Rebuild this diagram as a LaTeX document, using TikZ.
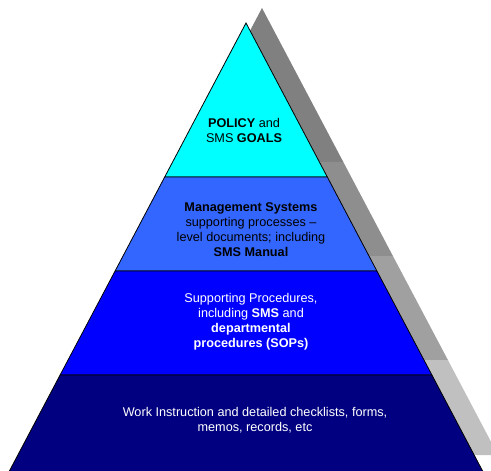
\documentclass[tikz,border=0pt]{standalone}
\usepackage{fontspec}
\setmainfont{Liberation Sans}

\tikzset{
  layertext/.style={align=center, inner sep=0.75pt, font=\fontsize{9.5}{11.25}\selectfont},
  layeredge/.style={draw=black, line width=0.6pt, line join=miter}
}

\begin{document}
\begin{tikzpicture}[x=0.75pt,y=0.75pt,yscale=-1,xscale=1]
\path[use as bounding box] (0,0) rectangle (491,470);
\clip (0,0) rectangle (491,470);

%Shape: Shadow top [id:sh1]
\fill [color={rgb, 255:red, 128; green, 128; blue, 128 }] (262,8) -- (343.3,162) -- (180.7,162) -- cycle ;
%Shape: Shadow band 2 [id:sh2]
\fill [color={rgb, 255:red, 142; green, 142; blue, 142 }] (180.7,162) -- (343.3,162) -- (392.9,256) -- (131.1,256) -- cycle ;
%Shape: Shadow band 3 [id:sh3]
\fill [color={rgb, 255:red, 160; green, 160; blue, 160 }] (131.1,256) -- (392.9,256) -- (447.9,360) -- (76.1,360) -- cycle ;
%Shape: Shadow band 4 [id:sh4]
\fill [color={rgb, 255:red, 192; green, 192; blue, 192 }] (76.1,360) -- (447.9,360) -- (498,455) -- (26,455) -- cycle ;

%Shape: Triangle top layer [id:ly1]
\draw [layeredge, fill={rgb, 255:red, 0; green, 255; blue, 255 }] (246,23) -- (327.3,177) -- (164.7,177) -- cycle ;
%Shape: Trapezoid layer 2 [id:ly2]
\draw [layeredge, fill={rgb, 255:red, 51; green, 102; blue, 255 }] (164.7,177) -- (327.3,177) -- (376.9,271) -- (115.1,271) -- cycle ;
%Shape: Trapezoid layer 3 [id:ly3]
\draw [layeredge, fill={rgb, 255:red, 0; green, 0; blue, 255 }] (115.1,271) -- (376.9,271) -- (431.9,375) -- (60.1,375) -- cycle ;
%Shape: Trapezoid layer 4 (base runs past the page edge) [id:ly4]
\draw [layeredge, fill={rgb, 255:red, 0; green, 0; blue, 128 }] (60.1,375) -- (431.9,375) -- (484.7,475) -- (7.3,475) -- cycle ;

% Text Node
\node [layertext] (policy) at (244,130) {\textbf{POLICY} and\\SMS \textbf{GOALS}};
% Text Node
\node [layertext] (mgmt) at (251,230) {\textbf{Management Systems}\\supporting processes --\\level documents; including\\\textbf{SMS Manual}};
% Text Node
\node [layertext, text=white] (procs) at (251,322) {Supporting Procedures,\\including \textbf{SMS} and\\\textbf{departmental}\\\textbf{procedures (SOPs)}};
% Text Node
\node [layertext, text=white] (work) at (255,420) {Work Instruction and detailed checklists, forms,\\memos, records, etc};

\end{tikzpicture}
\end{document}
